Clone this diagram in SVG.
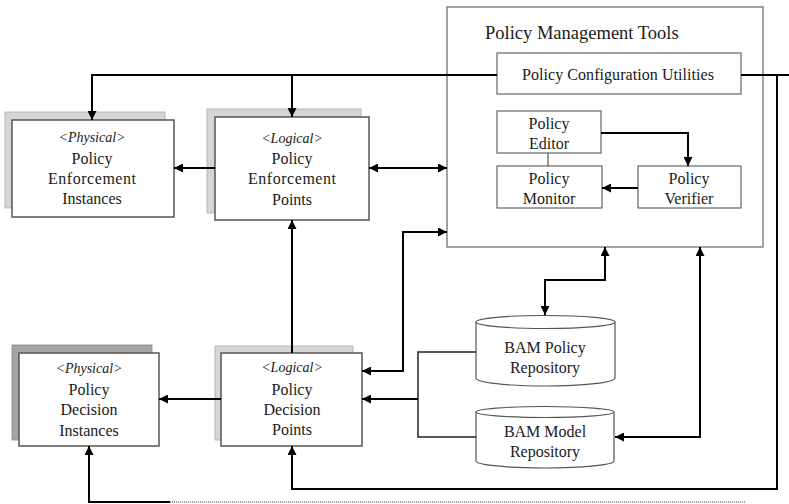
<svg xmlns="http://www.w3.org/2000/svg" width="789" height="504" viewBox="0 0 789 504">
<style>
  text { font-family: "Liberation Serif", "Times New Roman", serif; font-size: 16px; fill: #1a1a1a; text-anchor: middle; }
  .it { font-style: italic; font-size: 14px; }
  .title { font-size: 18.5px; text-anchor: start; }
  .box { fill: #fff; stroke: #555; stroke-width: 1.5; }
  .inner { fill: #fff; stroke: #666; stroke-width: 1.2; }
  .shadow { fill: #d6d6d6; stroke: #aaa; stroke-width: 0.8; }
  .shadowDark { fill: #a4a4a4; stroke: #888; stroke-width: 0.8; }
  .cyl { fill: #fff; stroke: #555; stroke-width: 1.2; }
  .conn { fill: none; stroke: #000; stroke-width: 2; }
  .thin { fill: none; stroke: #555; stroke-width: 1.2; }
  .dots { fill: none; stroke: #999; stroke-width: 2; stroke-dasharray: 1 1; }
</style>
<defs>
  <marker id="arr" viewBox="0 0 10 10" refX="10" refY="5" markerWidth="9" markerHeight="9" markerUnits="userSpaceOnUse" orient="auto-start-reverse">
    <path d="M0,0 L10,5 L0,10 z" fill="#000"/>
  </marker>
</defs>
<rect width="789" height="504" fill="#fff"/>

<g id="pmt">
  <rect class="inner" x="447" y="7" width="316" height="240"/>
  <text class="title" x="485" y="39">Policy Management Tools</text>
</g>

<g id="pei">
  <rect class="shadow" x="5" y="112" width="160" height="96"/>
  <rect class="box" x="12" y="120" width="162" height="97"/>
  <text class="it" x="92" y="142">&lt;Physical&gt;</text>
  <text x="92" y="164">Policy</text>
  <text x="92" y="184" textLength="88">Enforcement</text>
  <text x="92" y="204">Instances</text>
</g>

<g id="pep">
  <rect class="shadow" x="207" y="109" width="154" height="104"/>
  <rect class="box" x="215" y="117" width="154" height="103"/>
  <text class="it" x="292" y="143">&lt;Logical&gt;</text>
  <text x="292" y="164">Policy</text>
  <text x="292" y="184" textLength="88">Enforcement</text>
  <text x="292" y="205">Points</text>
</g>

<g id="pdi">
  <rect class="shadowDark" x="12" y="345" width="140" height="95"/>
  <rect class="box" x="19" y="353" width="140" height="93"/>
  <text class="it" x="89" y="373">&lt;Physical&gt;</text>
  <text x="89" y="395">Policy</text>
  <text x="89" y="415">Decision</text>
  <text x="89" y="436">Instances</text>
</g>

<g id="pdp">
  <rect class="shadow" x="215" y="346" width="138" height="94"/>
  <rect class="box" x="221" y="353" width="141" height="93"/>
  <text class="it" x="292" y="372">&lt;Logical&gt;</text>
  <text x="292" y="395">Policy</text>
  <text x="292" y="415">Decision</text>
  <text x="292" y="435">Points</text>
</g>

<g id="pcu">
  <rect class="inner" x="497" y="53" width="244" height="41"/>
  <text x="618" y="80" textLength="192">Policy Configuration Utilities</text>
</g>

<g id="editor">
  <rect class="inner" x="497" y="111" width="104" height="42"/>
  <text x="549" y="129">Policy</text>
  <text x="549" y="149">Editor</text>
</g>

<g id="monitor">
  <rect class="inner" x="497" y="166" width="105" height="42"/>
  <text x="549" y="184">Policy</text>
  <text x="549" y="204">Monitor</text>
</g>

<g id="verifier">
  <rect class="inner" x="638" y="166" width="103" height="42"/>
  <text x="689" y="184">Policy</text>
  <text x="689" y="204">Verifier</text>
</g>

<g id="bam-policy">
  <path class="cyl" d="M476,322 A69.5,6.5 0 0 1 615,322 V378 A69.5,8 0 0 1 476,378 Z"/>
  <path class="cyl" d="M476,322 A69.5,6.5 0 0 0 615,322" fill="none"/>
  <text x="545" y="353">BAM Policy</text>
  <text x="545" y="373">Repository</text>
</g>

<g id="bam-model">
  <path class="cyl" d="M476,412 A69,5.5 0 0 1 614,412 V461 A69,7 0 0 1 476,461 Z"/>
  <path class="cyl" d="M476,412 A69,5.5 0 0 0 614,412" fill="none"/>
  <text x="545" y="437">BAM Model</text>
  <text x="545" y="457">Repository</text>
</g>

<g id="connectors">
  <path class="conn" d="M497,75 H92 V120" marker-end="url(#arr)"/>
  <path class="conn" d="M292,75 V117" marker-end="url(#arr)"/>
  <path class="conn" d="M215,168 H174" marker-end="url(#arr)"/>
  <path class="conn" d="M369,168 H447" marker-start="url(#arr)" marker-end="url(#arr)"/>
  <path class="conn" d="M292,353 V220" marker-end="url(#arr)"/>
  <path class="conn" d="M362,371 H403 V232 H447" marker-start="url(#arr)" marker-end="url(#arr)"/>
  <path class="thin" d="M476,352 H418 V437 H476" style="stroke:#222;stroke-width:1.5"/>
  <path class="conn" d="M418,399 H362" marker-end="url(#arr)"/>
  <path class="conn" d="M221,399 H159" marker-end="url(#arr)"/>
  <path class="conn" d="M605,247 V280 H545 V315" marker-start="url(#arr)" marker-end="url(#arr)"/>
  <path class="conn" d="M700,247 V437 H615" marker-start="url(#arr)" marker-end="url(#arr)"/>
  <path class="conn" d="M741,75 H789"/>
  <path class="conn" d="M777,75 V489 H292 V446" marker-end="url(#arr)"/>
  <path class="conn" d="M170,502 H89 V446" marker-end="url(#arr)"/>
  <path class="dots" d="M170,502 H745"/>
  <path class="conn" d="M601,133 H688 V166" marker-end="url(#arr)"/>
  <path class="conn" d="M638,188 H602" marker-end="url(#arr)"/>
  <path class="thin" d="M548,153 V166"/>
</g>
</svg>
